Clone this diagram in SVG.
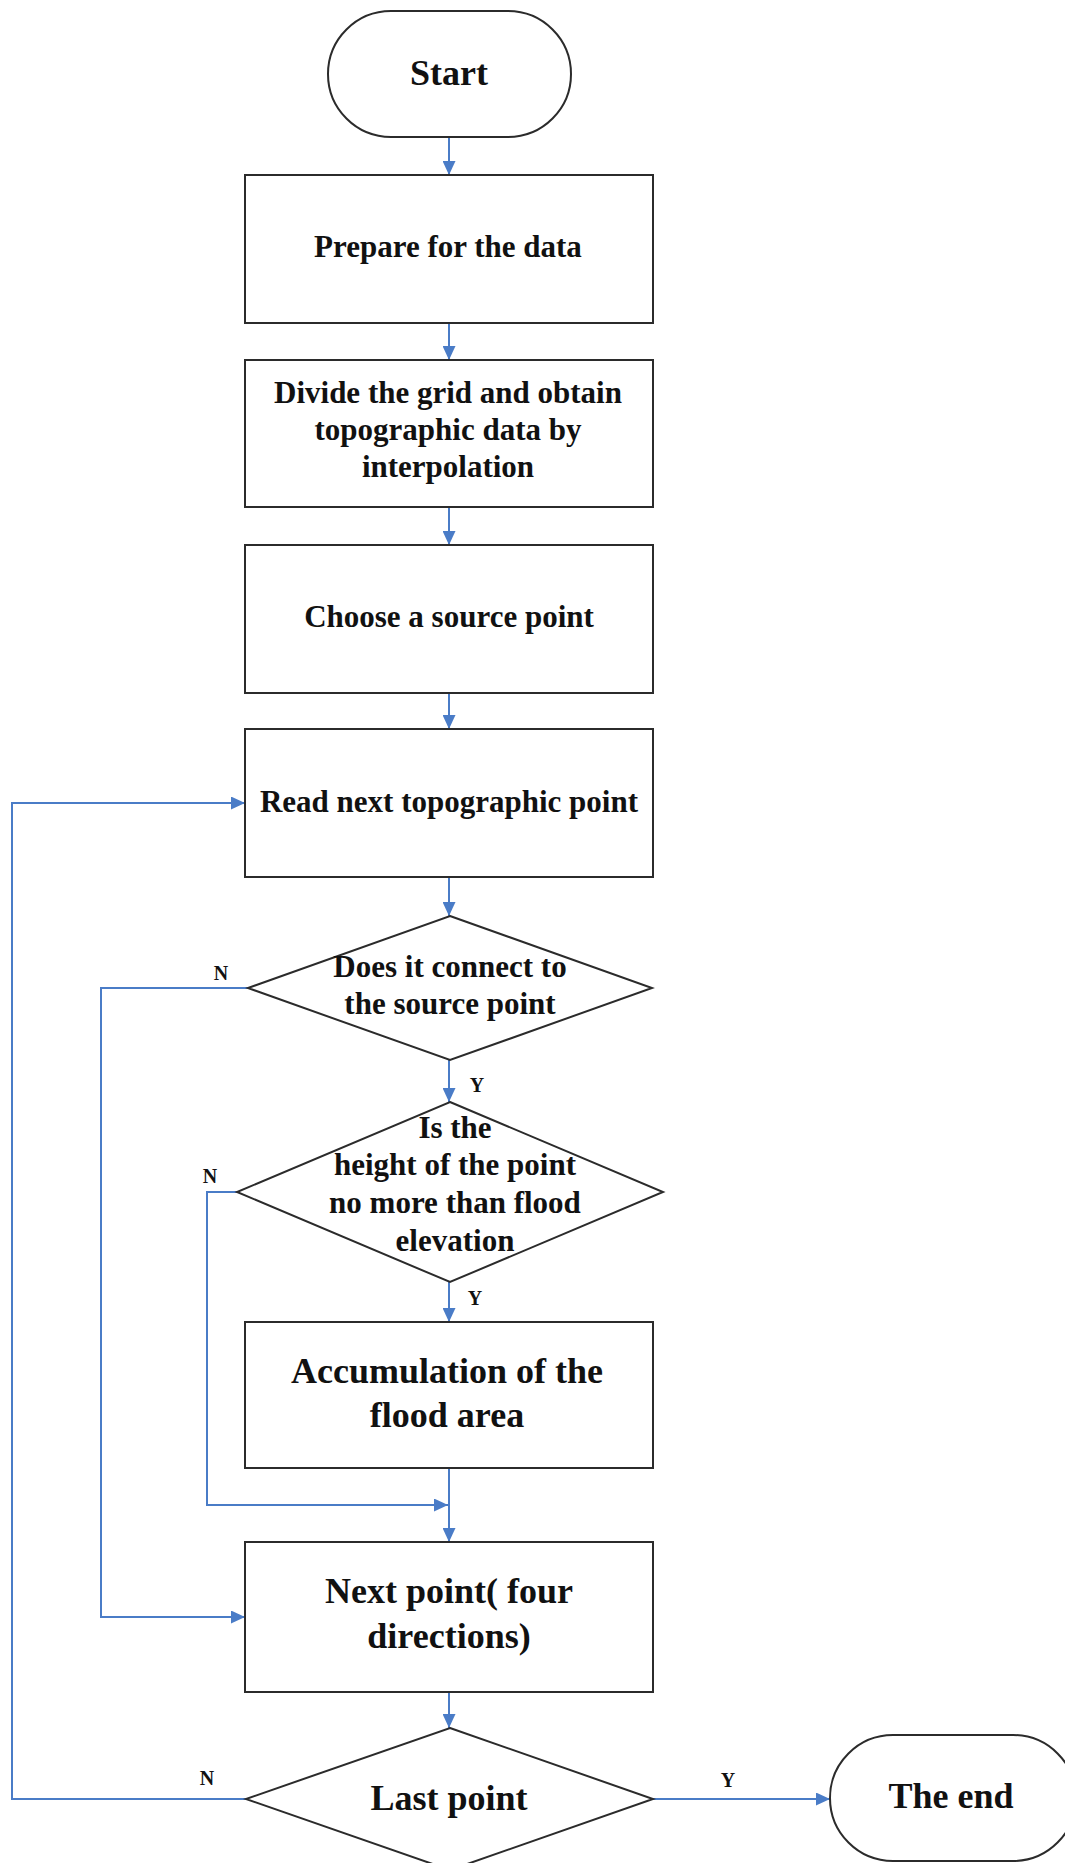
<svg xmlns="http://www.w3.org/2000/svg" width="1065" height="1863" viewBox="0 0 1065 1863">
<style>
.shape{fill:#ffffff;stroke:#2b2b2b;stroke-width:2}
.t{font-family:"Liberation Serif","Times New Roman",serif;font-weight:bold;fill:#111;text-anchor:middle}
.s31{font-size:31px}
.s36{font-size:36px}
.lbl{font-family:"Liberation Serif","Times New Roman",serif;font-weight:bold;font-size:20px;fill:#111;text-anchor:middle}
.c{fill:none;stroke:#4a7cc7;stroke-width:2}
</style>
<defs>
<marker id="ah" markerUnits="userSpaceOnUse" markerWidth="15" markerHeight="13" refX="14" refY="6.5" orient="auto">
<path d="M0,0 L14,6.5 L0,13 z" fill="#4a7cc7"/>
</marker>
</defs>
<rect width="1065" height="1863" fill="#ffffff"/>
<g id="connectors">
<path class="c" d="M449,137 V175" marker-end="url(#ah)"/>
<path class="c" d="M449,323 V360" marker-end="url(#ah)"/>
<path class="c" d="M449,507 V545" marker-end="url(#ah)"/>
<path class="c" d="M449,693 V729" marker-end="url(#ah)"/>
<path class="c" d="M449,877 V916" marker-end="url(#ah)"/>
<path class="c" d="M449,1060 V1102" marker-end="url(#ah)"/>
<path class="c" d="M449,1282 V1322" marker-end="url(#ah)"/>
<path class="c" d="M449,1468 V1542" marker-end="url(#ah)"/>
<path class="c" d="M237,1192 H207 V1505 H448" marker-end="url(#ah)"/>
<path class="c" d="M248,988 H101 V1617 H245" marker-end="url(#ah)"/>
<path class="c" d="M449,1692 V1728" marker-end="url(#ah)"/>
<path class="c" d="M246,1799 H12 V803 H245" marker-end="url(#ah)"/>
<path class="c" d="M653,1799 H830" stroke-width="3" marker-end="url(#ah)"/>
<text class="lbl" x="221" y="980">N</text>
<text class="lbl" x="477" y="1092">Y</text>
<text class="lbl" x="210" y="1183">N</text>
<text class="lbl" x="475" y="1305">Y</text>
<text class="lbl" x="207" y="1785">N</text>
<text class="lbl" x="728" y="1787">Y</text>
</g>
<g id="start">
<rect class="shape" x="328" y="11" width="243" height="126" rx="63" ry="63"/>
<text class="t s36" x="449" y="85">Start</text>
</g>
<g id="prepare">
<rect class="shape" x="245" y="175" width="408" height="148"/>
<text class="t s31" x="448" y="257">Prepare for the data</text>
</g>
<g id="divide">
<rect class="shape" x="245" y="360" width="408" height="147"/>
<text class="t s31" x="448" y="403">Divide the grid and obtain</text>
<text class="t s31" x="448" y="440">topographic data by</text>
<text class="t s31" x="448" y="477">interpolation</text>
</g>
<g id="choose">
<rect class="shape" x="245" y="545" width="408" height="148"/>
<text class="t s31" x="449" y="627">Choose a source point</text>
</g>
<g id="read">
<rect class="shape" x="245" y="729" width="408" height="148"/>
<text class="t s31" x="449" y="812">Read next topographic point</text>
</g>
<g id="connect">
<polygon class="shape" points="450,916 652,988 450,1060 248,988"/>
<text class="t s31" x="450" y="977">Does it connect to</text>
<text class="t s31" x="450" y="1014">the source point</text>
</g>
<g id="height">
<polygon class="shape" points="450,1102 663,1192 450,1282 237,1192"/>
<text class="t s31" x="455" y="1138">Is the</text>
<text class="t s31" x="455" y="1175">height of the point</text>
<text class="t s31" x="455" y="1213">no more than flood</text>
<text class="t s31" x="455" y="1251">elevation</text>
</g>
<g id="accumulation">
<rect class="shape" x="245" y="1322" width="408" height="146"/>
<text class="t s36" x="447" y="1383">Accumulation of the</text>
<text class="t s36" x="447" y="1427">flood area</text>
</g>
<g id="nextpoint">
<rect class="shape" x="245" y="1542" width="408" height="150"/>
<text class="t s36" x="449" y="1603">Next point( four</text>
<text class="t s36" x="449" y="1648">directions)</text>
</g>
<g id="lastpoint">
<polygon class="shape" points="450,1728 653,1799 450,1870 246,1799"/>
<text class="t s36" x="449" y="1810">Last point</text>
</g>
<g id="end">
<rect class="shape" x="830" y="1735" width="246" height="126" rx="63" ry="63"/>
<text class="t s36" x="951" y="1808">The end</text>
</g>
</svg>
